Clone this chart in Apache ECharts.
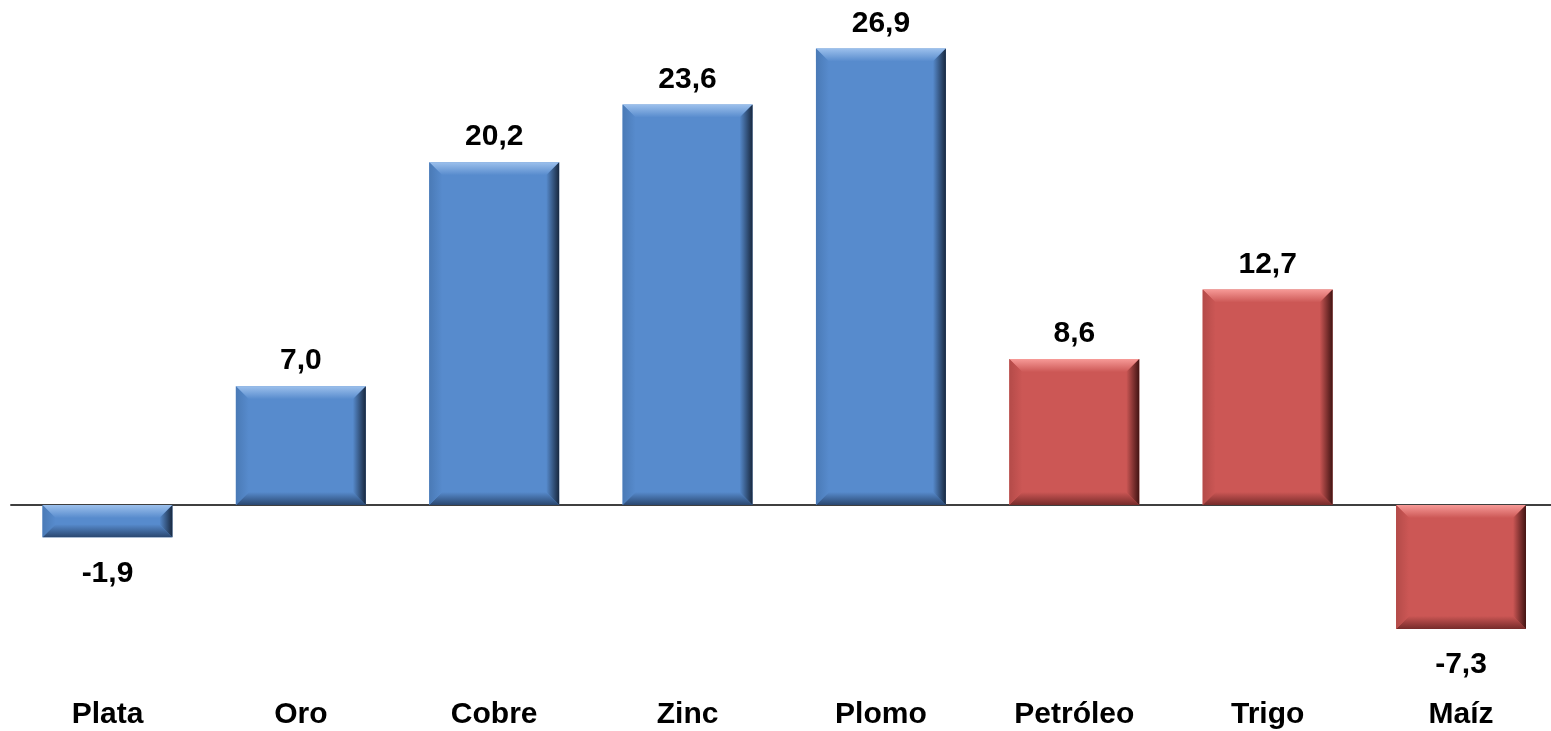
<!DOCTYPE html>
<html>
<head>
<meta charset="utf-8">
<script src="https://cdn.jsdelivr.net/npm/echarts@6/dist/echarts.min.js"></script>
<style>
  html, body { margin: 0; padding: 0; background: #ffffff; }
  #chart { width: 1551px; height: 731px; }
</style>
</head>
<body>
<div id="chart"></div>
<script>
// Variación de precios por producto (%)
const categories = ['Plata', 'Oro', 'Cobre', 'Zinc', 'Plomo', 'Petróleo', 'Trigo', 'Maíz'];
const values = [-1.9, 7.0, 20.2, 23.6, 26.9, 8.6, 12.7, -7.3];
const groups = ['metal', 'metal', 'metal', 'metal', 'metal', 'agro', 'agro', 'agro'];

// Bevelled bar palette per group
const palette = {
  metal: { face: '#578BCD', top: '#9CC0EC', left: '#4A7AB6', right: '#18283F', bottom: '#2A4770' },
  agro:  { face: '#CC5755', top: '#F79A97', left: '#B44B49', right: '#421413', bottom: '#772B2A' }
};

const FONT = 'bold 30px "Liberation Sans", Arial, sans-serif';

function fmt(v) {
  return v.toFixed(1).replace('.', ',');
}

function grad(x, y, x2, y2, c0, c1) {
  return { type: 'linear', x: x, y: y, x2: x2, y2: y2,
    colorStops: [{ offset: 0, color: c0 }, { offset: 1, color: c1 }] };
}

function renderItem(params, api) {
  const idx = api.value(0);
  const v = api.value(1);
  const p0 = api.coord([idx, 0]);
  const p1 = api.coord([idx, v]);
  const bw = api.size([1, 0])[0] * 0.672;
  const x0 = p0[0] - bw / 2, x1 = p0[0] + bw / 2;
  const yT = Math.min(p0[1], p1[1]), yB = Math.max(p0[1], p1[1]);
  const h = yB - yT;
  const b = Math.min(13, h / 2, bw / 2);
  const c = palette[groups[params.dataIndex]];
  const children = [
    { type: 'rect', shape: { x: x0, y: yT, width: bw, height: h }, style: { fill: c.face } },
    // top bevel
    { type: 'polygon', shape: { points: [[x0, yT], [x1, yT], [x1 - b, yT + b], [x0 + b, yT + b]] },
      style: { fill: grad(0, 0, 0, 1, c.top, c.face) } },
    // bottom bevel
    { type: 'polygon', shape: { points: [[x0, yB], [x1, yB], [x1 - b, yB - b], [x0 + b, yB - b]] },
      style: { fill: grad(0, 1, 0, 0, c.bottom, c.face) } },
    // left bevel
    { type: 'polygon', shape: { points: [[x0, yT], [x0 + b, yT + b], [x0 + b, yB - b], [x0, yB]] },
      style: { fill: grad(0, 0, 1, 0, c.left, c.face) } },
    // right bevel
    { type: 'polygon', shape: { points: [[x1, yT], [x1 - b, yT + b], [x1 - b, yB - b], [x1, yB]] },
      style: { fill: grad(1, 0, 0, 0, c.right, c.face) } },
    // value label
    { type: 'text', style: {
        text: fmt(v), x: p0[0], y: v >= 0 ? yT - 25 : yB + 36,
        align: 'center', verticalAlign: 'middle', font: FONT, fill: '#000000' } }
  ];
  return { type: 'group', children: children };
}

const chart = echarts.init(document.getElementById('chart'), null, { renderer: 'canvas' });

chart.setOption({
  animation: false,
  backgroundColor: '#ffffff',
  grid: {
    left: 10.8, width: 1546.9, top: 29.8, height: 611,
    containLabel: false, outerBoundsMode: 'none'
  },
  xAxis: [
    {
      type: 'category', data: categories,
      axisLine: { onZero: true, lineStyle: { color: '#000000', width: 1.5 } },
      axisTick: { show: false }, axisLabel: { show: false }, splitLine: { show: false }
    },
    {
      type: 'category', data: categories, position: 'bottom',
      axisLine: { show: false, onZero: false }, axisTick: { show: false }, splitLine: { show: false },
      axisLabel: {
        show: true, margin: 59, color: '#000000',
        fontFamily: '"Liberation Sans", Arial, sans-serif', fontWeight: 'bold', fontSize: 30
      }
    }
  ],
  yAxis: { type: 'value', min: -8, max: 28, show: false, splitLine: { show: false } },
  series: [{
    type: 'custom',
    xAxisIndex: 0,
    renderItem: renderItem,
    clip: false,
    data: values.map((v, i) => [i, v])
  }]
});
</script>
</body>
</html>
